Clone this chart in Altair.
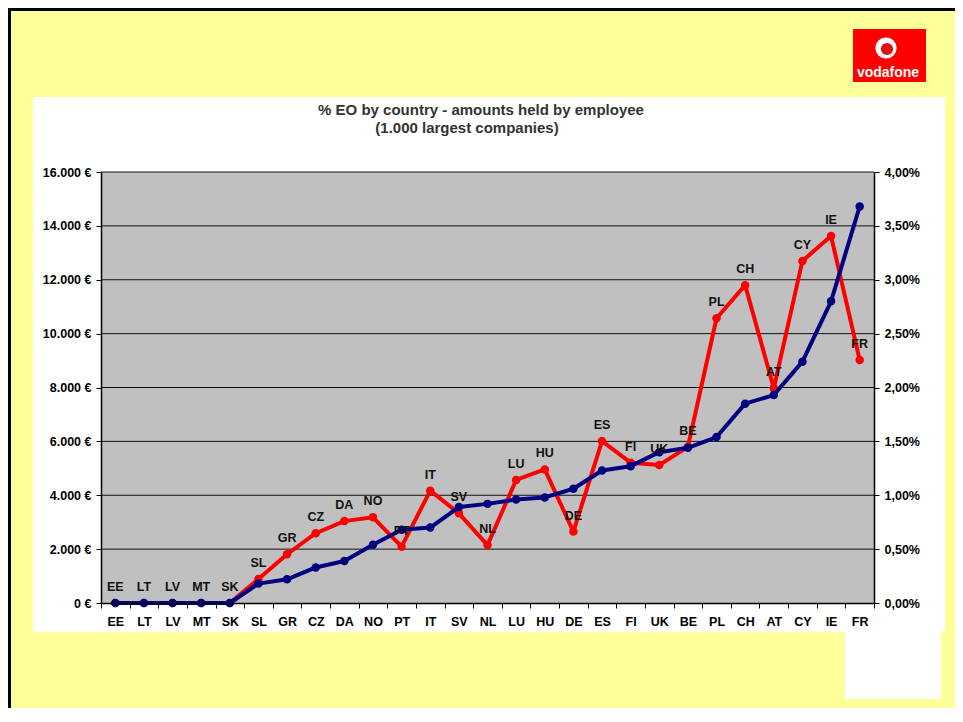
import altair as alt
import pandas as pd

countries = ["EE", "LT", "LV", "MT", "SK", "SL", "GR", "CZ", "DA", "NO", "PT", "IT", "SV", "NL",
             "LU", "HU", "DE", "ES", "FI", "UK", "BE", "PL", "CH", "AT", "CY", "IE", "FR"]
amount_eur = [0, 0, 0, 0, 0, 890, 1810, 2590, 3040, 3180, 2090, 4170, 3330, 2150,
              4570, 4960, 2650, 6010, 5210, 5120, 5800, 10570, 11800, 7970, 12700, 13620, 9020]
pct_emp = [0, 0, 0, 0, 0, 0.18, 0.22, 0.33, 0.39, 0.54, 0.68, 0.70, 0.89, 0.92,
           0.96, 0.98, 1.06, 1.23, 1.27, 1.40, 1.44, 1.54, 1.85, 1.93, 2.24, 2.80, 3.68]
eur_ticks = [0, 2000, 4000, 6000, 8000, 10000, 12000, 14000, 16000]
pct_ticks = [0, 0.5, 1.0, 1.5, 2.0, 2.5, 3.0, 3.5, 4.0]
title_lines = ["% EO by country - amounts held by employee", "(1.000 largest companies)"]
logo_text = "vodafone"

FONT = "Liberation Sans"
W, H = 773, 431

df = pd.DataFrame({"country": countries, "amount": amount_eur, "pct": pct_emp})
grid_df = pd.DataFrame({"v": eur_ticks[1:]})
one = pd.DataFrame({"k": [0]})

x_axis = alt.Axis(title=None, labelAngle=0, labelFont=FONT, labelFontWeight="bold",
                  labelFontSize=12.5, labelColor="black", tickBand="extent", tickColor="black",
                  tickSize=5, domainColor="black", domainWidth=1.5, labelPadding=7,
                  grid=False, zindex=1)
x_scale = alt.Scale(type="band", domain=countries, paddingInner=0, paddingOuter=0)


def xenc():
    return alt.X("country:N", sort=countries, scale=x_scale, bandPosition=0.5, axis=x_axis)


left_scale = alt.Scale(domain=[0, 16000], nice=False, zero=True)
right_scale = alt.Scale(domain=[0, 4], nice=False, zero=True)

left_axis = alt.Axis(title=None, values=eur_ticks,
                     labelExpr="replace(format(datum.value, ','), ',', '.') + ' €'",
                     labelFont=FONT, labelFontWeight="bold", labelFontSize=12.5, labelColor="black",
                     tickColor="black", tickSize=5, labelPadding=5, domainColor="black",
                     domainWidth=1.5, grid=False, zindex=1)
right_axis = alt.Axis(title=None, orient="right", values=pct_ticks,
                      labelExpr="replace(format(datum.value, '.2f'), '.', ',') + '%'",
                      labelFont=FONT, labelFontWeight="bold", labelFontSize=12.5, labelColor="black",
                      tickColor="black", tickSize=5, labelPadding=5, domainColor="black",
                      domainWidth=1.5, grid=False, zindex=1)


def rect(x1, x2, y1, y2, color):
    return alt.Chart(one).mark_rect(color=color, opacity=1).encode(
        x=alt.value(x1), x2=alt.value(x2), y=alt.value(y1), y2=alt.value(y2))


bg = [
    rect(-93, 854, -164, -161, "black"),
    rect(-93, -90, -164, 536, "black"),
    rect(-68, 844, -75, 460, "white"),
    rect(744, 840, 460, 527, "white"),
    rect(752, 825, -143, -90, "#FF0000"),
    alt.Chart(one).mark_circle(color="white", opacity=1, size=450).encode(
        x=alt.value(785), y=alt.value(-124)),
    alt.Chart(one).mark_circle(color="#E01010", opacity=1, size=150).encode(
        x=alt.value(786), y=alt.value(-123)),
    alt.Chart(one).mark_text(font=FONT, fontSize=14, fontWeight="bold", color="white",
                             align="center", baseline="middle").encode(
        x=alt.value(787), y=alt.value(-99), text=alt.value(logo_text)),
    rect(0, W, 0, H, "#C0C0C0"),
]

grid = alt.Chart(grid_df).mark_rule(color="#111111", strokeWidth=1).encode(
    y=alt.Y("v:Q", scale=left_scale, axis=left_axis))
red_line = alt.Chart(df).mark_line(color="#FF0000", strokeWidth=4, strokeJoin="round").encode(
    x=xenc(), y=alt.Y("amount:Q", scale=left_scale, axis=left_axis))
red_pts = alt.Chart(df).mark_circle(color="#FF0000", opacity=1, size=72).encode(
    x=xenc(), y=alt.Y("amount:Q", scale=left_scale, axis=left_axis))
left_group = alt.layer(grid, red_line, red_pts)

blue_line = alt.Chart(df).mark_line(color="#000080", strokeWidth=4, strokeJoin="round").encode(
    x=xenc(), y=alt.Y("pct:Q", scale=right_scale, axis=right_axis))
blue_pts = alt.Chart(df).mark_circle(color="#000080", opacity=1, size=72).encode(
    x=xenc(), y=alt.Y("pct:Q", scale=right_scale, axis=right_axis))
right_group = alt.layer(blue_line, blue_pts)

labels = alt.Chart(df).mark_text(font=FONT, fontSize=12.5, fontWeight="bold", color="#111111",
                                 align="center", baseline="middle", dy=-16).encode(
    x=xenc(), y=alt.Y("amount:Q", scale=left_scale, axis=None), text="country:N")

t1 = alt.Chart(one).mark_text(font=FONT, fontSize=15, fontWeight="bold", color="#333333",
                              align="center", baseline="middle").encode(
    x=alt.value(380), y=alt.value(-62), text=alt.value(title_lines[0]))
t2 = alt.Chart(one).mark_text(font=FONT, fontSize=15, fontWeight="bold", color="#333333",
                              align="center", baseline="middle").encode(
    x=alt.value(366), y=alt.value(-44), text=alt.value(title_lines[1]))

chart = alt.layer(*bg, left_group, right_group, labels, t1, t2).resolve_scale(
    y="independent"
).properties(
    width=W, height=H,
    autosize=alt.AutoSizeParams(type="none"),
    padding={"left": 93, "top": 164, "right": 81, "bottom": 105},
    background="#FFFF99",
).configure_view(strokeWidth=0)

chart.save("out.html", embed_options={"renderer": "svg", "actions": False})
